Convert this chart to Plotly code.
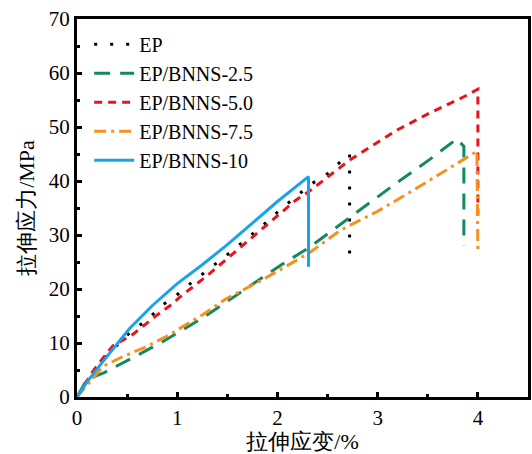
import plotly.graph_objects as go

# strain (%) and stress (MPa)
ep_x = [0, 0.16, 0.26, 0.49, 0.62, 0.74, 0.85, 0.99, 1.09, 1.19, 1.30, 1.42, 1.55, 1.67, 1.78, 1.90, 2.01, 2.13, 2.24, 2.34, 2.48, 2.58, 2.70, 2.72, 2.72]
ep_y = [0, 4.8, 6.9, 11.3, 13.2, 15.0, 17.0, 18.8, 20.4, 21.9, 23.5, 25.2, 27.1, 28.9, 30.7, 32.5, 34.4, 36.2, 38.0, 39.5, 41.0, 42.8, 44.6, 45.0, 26.0]

b25_x = [0, 0.10, 0.26, 0.43, 0.62, 0.85, 1.07, 1.25, 1.49, 1.68, 1.84, 2.04, 2.31, 2.60, 2.80, 3.20, 3.52, 3.79, 3.86, 3.86]
b25_y = [0, 3.3, 4.4, 6.0, 7.9, 10.2, 12.6, 14.6, 17.6, 20.0, 22.1, 24.5, 27.6, 31.6, 34.4, 39.8, 44.0, 47.8, 46.4, 28.0]

b50_x = [0, 0.15, 0.30, 0.36, 0.55, 0.65, 0.80, 0.92, 1.02, 1.17, 1.30, 1.51, 1.74, 1.98, 2.18, 2.31, 2.48, 2.63, 2.73, 3.20, 3.52, 3.86, 3.99, 4.00, 4.00]
b50_y = [0, 4.5, 8.2, 9.5, 11.5, 13.0, 15.2, 16.8, 18.4, 20.6, 22.5, 25.8, 29.4, 33.1, 36.4, 38.0, 40.4, 42.6, 44.0, 49.5, 52.6, 55.6, 56.8, 57.0, 33.6]

b75_x = [0, 0.13, 0.26, 0.46, 0.69, 0.89, 1.05, 1.25, 1.48, 1.84, 2.18, 2.34, 2.63, 3.00, 3.33, 3.66, 3.86, 3.99, 4.00]
b75_y = [0, 2.9, 5.7, 7.5, 9.3, 11.2, 13.0, 15.2, 18.1, 21.6, 25.2, 27.0, 30.9, 34.4, 38.0, 41.7, 44.0, 45.5, 27.0]

b10_x = [0, 0.10, 0.26, 0.40, 0.52, 0.75, 1.00, 1.25, 1.50, 1.75, 2.00, 2.31, 2.31]
b10_y = [0, 2.8, 6.6, 9.8, 12.6, 16.9, 21.0, 24.5, 28.2, 32.2, 36.2, 40.8, 24.1]

names = ["EP", "EP/BNNS-2.5", "EP/BNNS-5.0", "EP/BNNS-7.5", "EP/BNNS-10"]
colors = ["#000000", "#138a5c", "#e8141c", "#f7901e", "#1aa3e8"]
dashes = ["3px,13px", "16px,10px", "8px,6px", "12px,5px,3px,5px", "solid"]
xs = [ep_x, b25_x, b50_x, b75_x, b10_x]
ys = [ep_y, b25_y, b50_y, b75_y, b10_y]

fig = go.Figure()
for n, c, d, x, y in zip(names, colors, dashes, xs, ys):
    fig.add_trace(go.Scatter(x=x, y=y, mode="lines", name=n,
                             line=dict(color=c, dash=d, width=3)))

font_main = "Liberation Serif, serif"
axis_common = dict(
    showline=True, linecolor="black", linewidth=3, mirror=True,
    ticks="inside", ticklen=5, tickwidth=3, tickcolor="black",
    showgrid=False, zeroline=False,
    tickfont=dict(family=font_main, size=21, color="black"),
)
fig.update_layout(
    width=532, height=454,
    margin=dict(l=77, r=1, t=19, b=53),
    plot_bgcolor="white", paper_bgcolor="white",
    font=dict(family=font_main, color="black"),
    xaxis=dict(range=[0, 4.5], dtick=1, tick0=0,
               minor=dict(dtick=0.5, ticks="inside", ticklen=3, tickwidth=3, tickcolor="black"),
               title=dict(text="拉伸应变/%", font=dict(family=font_main, size=22), standoff=7),
               **axis_common),
    yaxis=dict(range=[0, 70], dtick=10, tick0=0,
               minor=dict(dtick=5, ticks="inside", ticklen=3, tickwidth=3, tickcolor="black"),
               title=dict(text="拉伸应力/MPa", font=dict(family=font_main, size=22), standoff=9),
               **axis_common),
    legend=dict(x=0.027, y=0.985, xanchor="left", yanchor="top",
                bgcolor="rgba(0,0,0,0)", font=dict(family=font_main, size=20),
                tracegroupgap=0, itemwidth=40),
    showlegend=True,
)

fig.write_html("out.html")
